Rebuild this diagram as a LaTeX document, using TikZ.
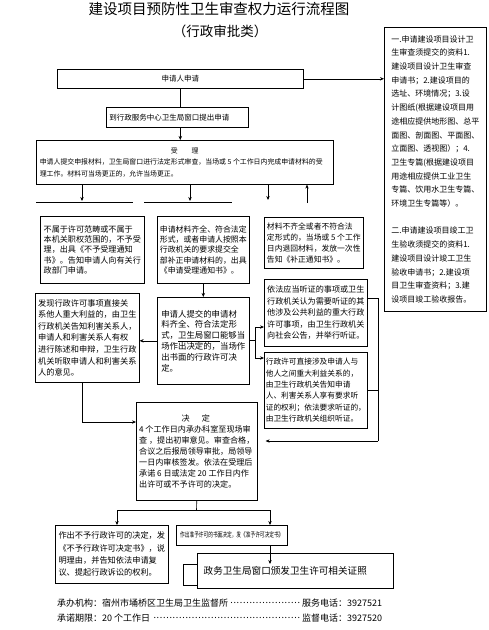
\documentclass[tikz,border=0pt]{standalone}
\usepackage{fontspec}
\setmainfont{Noto Sans CJK SC}
\usepackage{graphicx}
\usetikzlibrary{arrows.meta}
\newcommand\fs[2]{\fontsize{#1pt}{#2pt}\selectfont}
\newcommand\dotlead{\leaders\hbox to 3.2pt{\hss\raisebox{2.5pt}{.}\hss}\hfill}
\begin{document}
\begin{tikzpicture}[x=1pt,y=-1pt,
  box/.style={draw, line width=0.6pt, anchor=north west, inner sep=2pt, align=left},
  arr/.style={-{Stealth[length=4pt,width=3.4pt]}, line width=0.6pt},
  ln/.style={line width=0.6pt}]
\useasboundingbox (0,0) rectangle (488,630);
\fill[white] (0,0) rectangle (488,630);

% titles
\node[font=\fs{14.5}{16}] (title) at (219,9) {建设项目预防性卫生审查权力运行流程图};
\node[font=\fs{13.5}{15}] (sub) at (220,31) {（行政审批类）};

% right info box
\node[box, minimum width=102pt, minimum height=284pt, font=\fs{8}{13.7}] (nR) at (384,27)
{一.申请建设项目设计卫\\生审查须提交的资料1.\\建设项目设计卫生审查\\申请书；2.建设项目的\\选址、环境情况；3.设\\计图纸(根据建设项目用\\途相应提供地形图、总平\\面图、剖面图、平面图、\\立面图、透视图）；4.\\卫生专篇(根据建设项目\\用途相应提供工业卫生\\专篇、饮用水卫生专篇、\\环境卫生专篇等）。\\[13.7pt]二.申请建设项目竣工卫\\生验收须提交的资料1.\\建设项目设计竣工卫生\\验收申请书；2.建设项\\目卫生审查资料；3.建\\设项目竣工验收报告。};

% main flow
\node[box, minimum width=246pt, minimum height=19pt, font=\fs{7.5}{9}, align=center] (n1) at (57,69) {\raisebox{-4pt}{申请人申请}};
\node[box, minimum width=142pt, minimum height=20pt, text width=136pt, font=\fs{7.5}{9}] (n2) at (106,107) {\raisebox{-4pt}{到行政服务中心卫生局窗口提出申请}};
\node[box, minimum width=297pt, minimum height=44pt, font=\fs{6.9}{11.5}] (n3) at (36,140)
{\makebox[290pt]{受\hspace{2em}理}\\申请人提交申报材料，卫生局窗口进行法定形式审查，当场或~5~个工作日内完成申请材料的受\\理工作。材料可当场更正的，允许当场更正。};

\node[box, minimum width=104pt, minimum height=67pt, font=\fs{8.1}{10.2}] (nA) at (40,216)
{不属于许可范畴或不属于\\本机关职权范围的，不予受\\理，出具《不予受理通知\\书》。告知申请人向有关行\\政部门申请。};
\node[box, minimum width=92pt, minimum height=67pt, inner sep=1.5pt, font=\fs{7.9}{10.4}] (nB) at (157,216)
{申请材料齐全、符合法定\\形式，或者申请人按照本\\行政机关的要求提交全\\部补正申请材料的，出具\\《申请受理通知书》。};
\node[box, minimum width=99pt, minimum height=51pt, font=\fs{7.8}{11}] (nC) at (264,217)
{材料不齐全或者不符合法\\定形式的，当场或~5~个工作\\日内退回材料，发放一次性\\告知《补正通知书》。};

\node[box, minimum width=92pt, minimum height=87pt, font=\fs{8.4}{10.8}] (nE) at (157,297)
{申请人提交的申请材\\料齐全、符合法定形\\式，\underline{卫生局窗口}能够当\\场作出决定的，当场作\\出书面的行政许可决\\定。};
\node[box, minimum width=104pt, minimum height=89pt, font=\fs{8.2}{11.6}] (nF) at (35,293)
{发现行政许可事项直接关\\系他人重大利益的，由卫生\\行政机关告知利害关系人，\\申请人和利害关系人有权\\进行陈述和申辩，卫生行政\\机关听取申请人和利害关系\\人的意见。};
\node[box, minimum width=103pt, minimum height=67pt, font=\fs{8.1}{11.5}] (nG) at (264,279)
{依法应当听证的事项或卫生\\行政机关认为需要听证的其\\他涉及公共利益的重大行政\\许可事项，由卫生行政机关\\向社会公告，并举行听证。};
\node[box, minimum width=103pt, minimum height=76pt, inner sep=1.5pt, font=\fs{7.7}{11.4}] (nH) at (264,352)
{行政许可直接涉及申请人与\\他人之间重大利益关系的，\\由卫生行政机关告知申请\\人、利害关系人享有要求听\\证的权利；依法要求听证的，\\由卫生行政机关组织听证。};

\node[box, minimum width=121pt, minimum height=98pt, font=\fs{8.1}{11}] (nD) at (136,402)
{\makebox[113pt]{决\hspace{1.5em}定}\\4~个工作日内承办科室至现场审\\查~，提出初审意见。审查合格，\\合议之后报局领导审批，局领导\\一日内审核签发。依法在受理后\\承诺~6~日或法定~20~工作日内作\\出许可或不予许可的决定。};

\node[box, minimum width=113pt, minimum height=58pt, font=\fs{8.2}{12.3}] (nI) at (55,525)
{作出不予行政许可的决定，发\\《不予行政许可决定书》，说\\明理由，并告知依法申请复\\议、提起行政诉讼的权利。};
\node[box, minimum width=111pt, minimum height=20pt, font=\fs{7}{8}, align=center] (nJ) at (176,525)
{\scalebox{0.67}[1]{作出准予许可的书面决定，发《准予许可决定书》}};

\node[box, minimum width=120pt, minimum height=21pt] (nKb) at (183,564) {};
\node[box, minimum width=196pt, minimum height=35pt, line width=1.3pt, fill=white, inner xsep=6pt, text width=184pt, font=\fs{9.6}{11}] (nK) at (197,553)
{政务卫生局窗口颁发卫生许可相关证照};

% connectors
\draw[arr] (n1.east) -- (n1.east -| nR.west);
\draw[ln] (n1.south) -- (n1.south |- n2.north);
\draw[arr] (n1.south |- n2.south) -- (n1.south |- n3.north);

\coordinate (d1) at (82,201);
\coordinate (d2) at (190,201);
\coordinate (d3) at (268,200);
\coordinate (u4) at (307,203);
\draw[arr] (d1 |- n3.south) -- (d1);
\draw[arr] (d2 |- n3.south) -- (d2);
\draw[arr] (d3 |- n3.south) -- (d3);
\draw[arr] (u4) -- (u4 |- n3.south);
\coordinate (hA1) at (36,202); \coordinate (hA2) at (133,202);
\coordinate (hB1) at (144,202); \coordinate (hB2) at (232,202);
\draw[ln] (hA1) -- (hA2);
\draw[ln] (hB1) -- (hB2);

\draw[arr] (nB.south) -- (nE.north);
\draw[arr] (nE.west) -- (nE.west -| nF.east);

\coordinate (bj) at (255,340);
\coordinate (bG) at (255,327);
\coordinate (bH) at (255,358);
\draw[ln] (bj -| nE.east) -- (bj);
\draw[ln] (bG) -- (bH);
\draw[arr] (bG) -- (bG -| nG.west);
\draw[arr] (bH) -- (bH -| nH.west);

\coordinate (rG) at (378,298);
\coordinate (rH) at (378,390);
\coordinate (rD) at (378,441);
\draw[ln] (rG -| nG.east) -- (rG) -- (rD);
\draw[ln] (rH -| nH.east) -- (rH);
\draw[arr, shorten >=8pt] (rD) -- (rD -| nD.east);

\coordinate (lx) at (82,422);
\draw[arr] (lx |- nF.south) -- (lx) -- (lx -| nD.west);

\coordinate (jn) at (196.5,510);
\coordinate (jl) at (117,510);
\coordinate (jr) at (270,510);
\draw[ln] (nD.south) -- (jn);
\draw[ln] (jl) -- (jr);
\draw[arr] (jl) -- (jl |- nI.north);
\draw[arr] (jr) -- (jr |- nJ.north);
\draw[arr] (jr |- nJ.south) -- (jr |- nKb.north);

% footer
\node[anchor=west, inner sep=0pt, font=\fs{9}{11}] (f1) at (57,603)
{\makebox[325pt]{承办机构：宿州市埇桥区卫生局卫生监督所\dotlead 服务电话：3927521}};
\node[anchor=west, inner sep=0pt, font=\fs{9}{11}] (f2) at (57,618)
{\makebox[325pt]{承诺期限：20~个工作日\dotlead 监督电话：3927520}};
\end{tikzpicture}
\end{document}
